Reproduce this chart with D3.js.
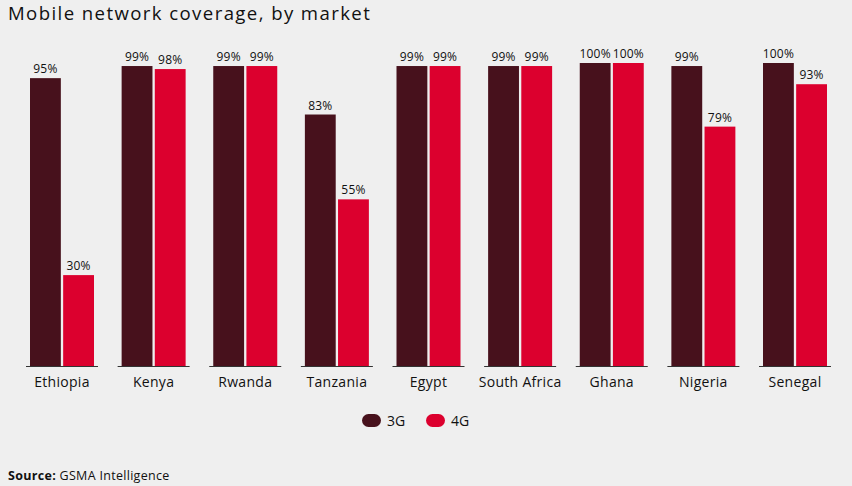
<!DOCTYPE html>
<html><head><meta charset="utf-8">
<script src="https://cdn.jsdelivr.net/npm/d3@7"></script>
<style>
html,body{margin:0;padding:0;background:#efefef;}
svg{display:block;font-family:"Open Sans","Noto Sans",sans-serif;}
</style></head>
<body>
<svg id="chart" width="852" height="486"></svg>
<script>
const markets = ["Ethiopia","Kenya","Rwanda","Tanzania","Egypt","South Africa","Ghana","Nigeria","Senegal"];
const series = ["3G","4G"];
const values3G = [95,99,99,83,99,99,100,99,100];
const values4G = [30,98,99,55,99,99,100,79,93];
const colors = {"3G":"#47111c","4G":"#dc002e"};

const svg = d3.select("#chart");
svg.append("rect").attr("width",852).attr("height",486).attr("fill","#efefef");

svg.append("text").attr("x",8).attr("y",20).attr("font-size",18.6).attr("letter-spacing",1.4)
  .attr("fill","#111").text("Mobile network coverage, by market");

const x0 = d3.scaleBand().domain(markets).range([26,831]).paddingInner(0.2142).paddingOuter(0);
const x1 = d3.scaleBand().domain(series).range([4,68]).paddingInner(0.07).paddingOuter(0);
const y = d3.scaleLinear().domain([0,100]).range([366,63]);

const data = markets.map((m,i)=>({market:m, vals:[{s:"3G",v:values3G[i]},{s:"4G",v:values4G[i]}]}));

const g = svg.append("g");
const grp = g.selectAll("g.grp").data(data).join("g").attr("class","grp")
  .attr("transform",d=>`translate(${x0(d.market)},0)`);

grp.selectAll("rect").data(d=>d.vals).join("rect")
  .attr("x",d=>x1(d.s)).attr("width",x1.bandwidth())
  .attr("y",d=>y(d.v)).attr("height",d=>y(0)-y(d.v))
  .attr("fill",d=>colors[d.s]);

grp.selectAll("text.val").data(d=>d.vals).join("text").attr("class","val")
  .attr("x",d=>x1(d.s)+x1.bandwidth()/2).attr("y",d=>y(d.v)-5)
  .attr("text-anchor","middle").attr("font-size",12).attr("letter-spacing",0.2).attr("fill","#111")
  .text(d=>d.v+"%");

grp.append("line").attr("x1",0).attr("x2",x0.bandwidth()).attr("y1",366.5).attr("y2",366.5)
  .attr("stroke","#333").attr("stroke-width",1.2);

grp.append("text").attr("x",x0.bandwidth()/2).attr("y",386.5).attr("text-anchor","middle")
  .attr("font-size",14).attr("letter-spacing",0.3).attr("fill","#111").text(d=>d.market);

// legend
const legend = svg.append("g");
const legX = [362,426];
series.forEach((s,i)=>{
  legend.append("rect").attr("x",legX[i]).attr("y",414).attr("width",19).attr("height",13)
    .attr("rx",6.5).attr("fill",colors[s]);
  legend.append("text").attr("x",legX[i]+25).attr("y",425.5).attr("font-size",14).attr("fill","#111").text(s);
});

const src = svg.append("text").attr("x",8).attr("y",480).attr("font-size",12.5).attr("letter-spacing",0.3).attr("fill","#111");
src.append("tspan").attr("font-weight","bold").text("Source:");
src.append("tspan").text(" GSMA Intelligence");
</script>
</body></html>
